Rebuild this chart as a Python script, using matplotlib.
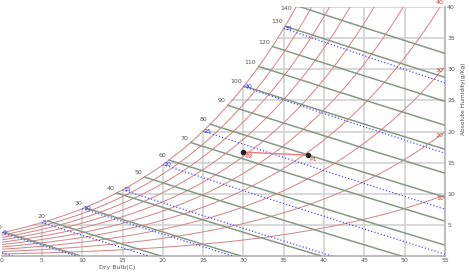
import numpy as np
import matplotlib
matplotlib.use('Agg')
import matplotlib.pyplot as plt

# chart levels
rh_levels = [10, 20, 30, 40, 50, 60, 70, 80, 90, 100]          # % relative humidity
enthalpy_levels = [10, 20, 30, 40, 50, 60, 70, 80, 90, 100,
                   110, 120, 130, 140]                           # kJ/kg
wetbulb_levels = [-5, 0, 5, 10, 15, 20, 25, 30, 35]              # deg C
xticks = [0, 5, 10, 15, 20, 25, 30, 35, 40, 45, 50, 55]
yticks = [5, 10, 15, 20, 25, 30, 35, 40]

# the two state points (dry bulb C, abs humidity g/kg)
point_names = ['P1', 'P2']
point_t = [38.0, 30.0]
point_w = [16.2, 16.7]

P = 101.325  # kPa
TMIN, TMAX, WMAX = 0, 55, 40

RED = '#d48a8a'
GREEN = '#869a86'
BLUE = '#4f4fff'
GRID = '#d2d2d2'
TXT = '#555555'


def pws(t):
    return 0.61078 * np.exp(17.27 * t / (t + 237.3))


def w_of(t, rh):
    pw = pws(t) * rh / 100.0
    return 622.0 * pw / (P - pw)   # g/kg


tt = np.linspace(-6, TMAX, 800)
wsat = w_of(tt, 100)
hsat = 1.006 * tt + wsat / 1000.0 * (2501 + 1.86 * tt)


def t_sat_w(w):
    return np.interp(w, wsat, tt)


fig = plt.figure(figsize=(4.69, 2.75), dpi=100)
ax = fig.add_axes([0.0036, 0.068, 0.9452, 0.9075])

# grid only below the saturation curve
for x in xticks[1:-1]:
    ax.plot([x, x], [0, min(w_of(x, 100), WMAX)], color=GRID, lw=1.2, zorder=1)
for y in yticks:
    ax.plot([t_sat_w(y), TMAX], [y, y], color=GRID, lw=1.2, zorder=1)

# relative humidity curves
t = np.linspace(TMIN, TMAX, 400)
for rh in rh_levels:
    ax.plot(t, w_of(t, rh), color=RED, lw=0.75, zorder=2)
    wend = w_of(TMAX, rh)
    if wend < 42:
        ax.text(TMAX - 0.15, wend - 0.2, str(rh), color='#d04040', fontsize=4.5,
                ha='right', va='top', zorder=5)

# enthalpy lines
for h in enthalpy_levels:
    t0 = np.interp(h, hsat, tt)
    tl = np.linspace(t0, TMAX, 200)
    wl = (h - 1.006 * tl) / (2501 + 1.86 * tl) * 1000
    m = wl >= 0
    ax.plot(tl[m], wl[m], color=GREEN, lw=1.1, zorder=3)
    w0 = w_of(t0, 100)
    if w0 < 39:
        ax.text(t0 - 0.3, w0 + 0.3, str(h), color=TXT, fontsize=4.5,
                ha='right', va='bottom', zorder=5)
    elif w0 < 41.5:
        ax.text(t0 - 0.6, 39.7, str(h), color=TXT, fontsize=4.5,
                ha='right', va='center', zorder=5)

# wet bulb lines
for twb in wetbulb_levels:
    ws = w_of(twb, 100) / 1000.0
    tl = np.linspace(twb, TMAX, 200)
    wl = ((2501 - 2.326 * twb) * ws - 1.006 * (tl - twb)) / (2501 + 1.86 * tl - 4.186 * twb) * 1000
    m = wl >= 0
    ax.plot(tl[m], wl[m], color=BLUE, lw=0.9, ls=':', zorder=3)
    if twb >= 0 and ws * 1000 < WMAX:
        ax.text(twb + 0.1, ws * 1000, str(twb), color='#3030ff', fontsize=4.5,
                ha='left', va='center', zorder=5)

# state points
ax.plot(point_t, point_w, color='#f07a7a', lw=1.0, zorder=6)
ax.plot(point_t, point_w, 'o', color='#222222', ms=3, zorder=7)
for name, x, y in zip(point_names, point_t, point_w):
    ax.text(x + 0.2, y - 0.3, name, color='#d03030', fontsize=4.5,
            ha='left', va='top', zorder=7)

ax.set_xlim(TMIN, TMAX)
ax.set_ylim(0, WMAX)
ax.set_xticks(xticks)
ax.set_yticks(yticks)
ax.yaxis.tick_right()
ax.yaxis.set_label_position('right')
ax.tick_params(length=0, labelsize=4.5, colors=TXT, pad=1.5)
for s in ['left', 'top']:
    ax.spines[s].set_visible(False)
for s in ['bottom', 'right']:
    ax.spines[s].set_color('#b0b0b0')
    ax.spines[s].set_linewidth(1.2)

ax.set_xlabel('Dry Bulb(C)', fontsize=4.5, color=TXT)
ax.xaxis.set_label_coords(0.26, -0.035)
ax.set_ylabel('Absolute Humidity(g/Kg)', fontsize=4.2, color=TXT)
ax.yaxis.set_label_coords(1.035, 0.63)

fig.savefig('out.png', dpi=100)
